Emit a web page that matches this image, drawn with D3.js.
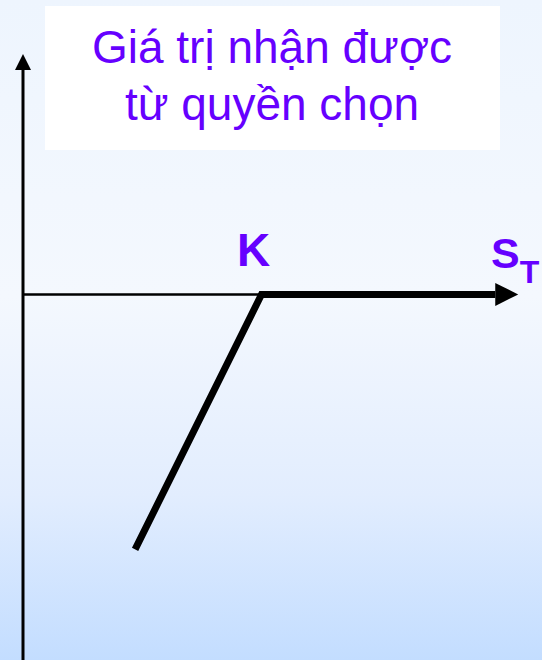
<!DOCTYPE html>
<html>
<head>
<meta charset="utf-8">
<script src="https://cdn.jsdelivr.net/npm/d3@7"></script>
<style>
  html, body { margin: 0; padding: 0; overflow: hidden; }
  svg { display: block; }
</style>
</head>
<body>
<div id="chart"></div>
<script>
// Payoff diagram (short put): value received from the option vs S_T
var titleLines = ["Giá trị nhận được", "từ quyền chọn"];
var strikeLabel = "K";
var axisLabel = "S";
var axisSub = "T";
var strike = 50;
var spotValues = [23.5, 50, 99];    // S_T points along the payoff line
var payoffValues = [-26.5, 0, 0];   // payoff at those points

var width = 542, height = 660;
var purple = "#6600ff";

var svg = d3.select("#chart")
    .append("svg")
    .attr("width", width)
    .attr("height", height);

// background gradient (light at top, pale blue at bottom)
var defs = svg.append("defs");
var grad = defs.append("linearGradient")
    .attr("id", "bg")
    .attr("x1", 0).attr("y1", 0).attr("x2", 0).attr("y2", 1);
grad.append("stop").attr("offset", "0%").attr("stop-color", "#eef5fe");
grad.append("stop").attr("offset", "45%").attr("stop-color", "#f4f8fe");
grad.append("stop").attr("offset", "75%").attr("stop-color", "#e2edfe");
grad.append("stop").attr("offset", "100%").attr("stop-color", "#c3ddff");

svg.append("rect")
    .attr("width", width)
    .attr("height", height)
    .attr("fill", "url(#bg)");

// title box
svg.append("rect")
    .attr("x", 45).attr("y", 6)
    .attr("width", 455).attr("height", 144)
    .attr("fill", "#ffffff");

svg.append("g")
    .selectAll("text")
    .data(titleLines)
    .join("text")
    .attr("x", 272)
    .attr("y", (d, i) => 63 + i * 57)
    .attr("text-anchor", "middle")
    .style("font-family", "'Liberation Sans', Arial, sans-serif")
    .style("font-size", "46px")
    .style("fill", purple)
    .text(d => d);

// scales
var x = d3.scaleLinear().domain([0, 100]).range([23, 500]);
var y = d3.scaleLinear().domain([-38, 25]).range([660, 54]);

// vertical axis with arrow
svg.append("line")
    .attr("x1", x(0)).attr("x2", x(0))
    .attr("y1", y(25) + 14).attr("y2", height)
    .style("stroke", "black")
    .style("stroke-width", 3);

svg.append("path")
    .attr("d", `M${x(0)},${y(25)} L${x(0) - 8},${y(25) + 16} L${x(0) + 8},${y(25) + 16} Z`)
    .attr("fill", "black");

// horizontal axis (thin)
svg.append("line")
    .attr("x1", x(0)).attr("x2", x(strike))
    .attr("y1", y(0)).attr("y2", y(0))
    .style("stroke", "black")
    .style("stroke-width", 2.5);

// payoff line (thick)
var line = d3.line()
    .x(d => x(d[0]))
    .y(d => y(d[1]));

svg.append("path")
    .datum(d3.zip(spotValues, payoffValues))
    .attr("d", line)
    .attr("fill", "none")
    .style("stroke", "black")
    .style("stroke-width", 7)
    .style("stroke-linejoin", "miter");

// arrowhead at the end of the payoff line
var endX = x(spotValues[spotValues.length - 1]);
svg.append("path")
    .attr("d", `M${endX},${y(0) - 11.5} L${endX + 23},${y(0)} L${endX},${y(0) + 11.5} Z`)
    .attr("fill", "black");

// labels
svg.append("text")
    .attr("x", x(strike) - 8)
    .attr("y", 266)
    .attr("text-anchor", "middle")
    .style("font-family", "'Liberation Sans', Arial, sans-serif")
    .style("font-size", "46px")
    .style("font-weight", "bold")
    .style("fill", purple)
    .text(strikeLabel);

var st = svg.append("text")
    .attr("x", 491)
    .attr("y", 268)
    .style("font-family", "'Liberation Sans', Arial, sans-serif")
    .style("font-weight", "bold")
    .style("fill", purple);
st.append("tspan").style("font-size", "43px").text(axisLabel);
st.append("tspan").attr("y", 283).style("font-size", "32px").text(axisSub);
</script>
</body>
</html>
